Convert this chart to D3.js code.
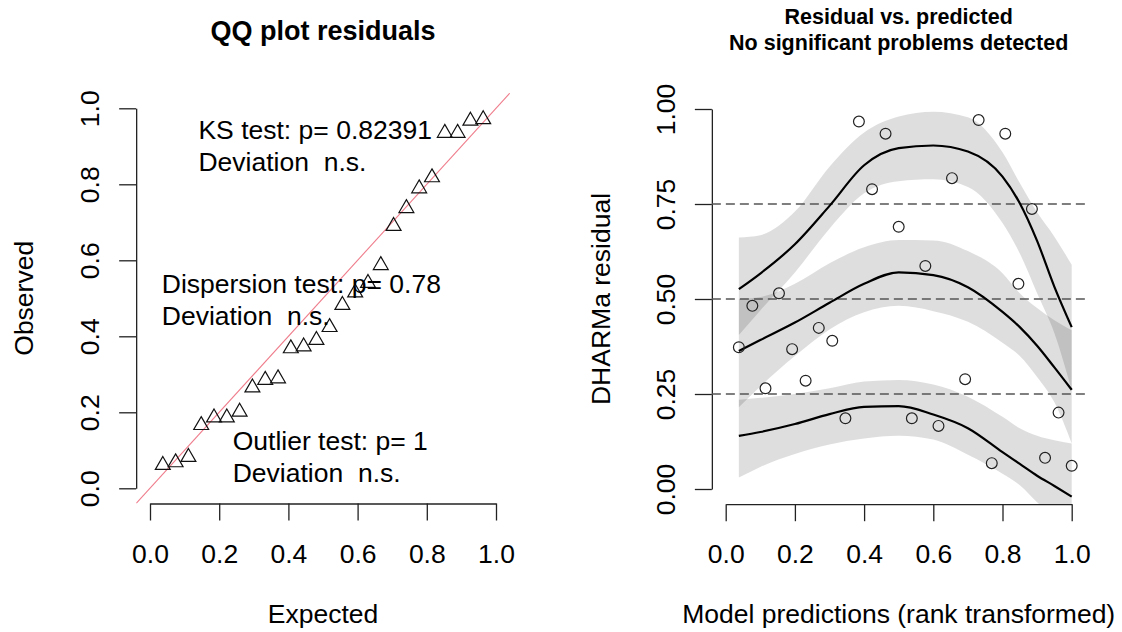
<!DOCTYPE html>
<html>
<head>
<meta charset="utf-8">
<script src="https://cdn.jsdelivr.net/npm/d3@7"></script>
<style>
  body { margin: 0; background: #fff; }
  svg text { font-family: "Liberation Sans", Arial, sans-serif; fill: #000; white-space: pre; }
</style>
</head>
<body>
<div id="chart"></div>
<script>
// ---------------- data ----------------
// scaled residuals in order of predicted rank
const predRank = [0.038, 0.077, 0.115, 0.154, 0.192, 0.231, 0.269, 0.308, 0.346, 0.385, 0.423, 0.462, 0.500,
  0.538, 0.577, 0.615, 0.654, 0.692, 0.731, 0.769, 0.808, 0.846, 0.885, 0.923, 0.962, 1.000];
const residuals = [0.373, 0.482, 0.265, 0.515, 0.368, 0.285, 0.424, 0.390, 0.186, 0.967, 0.789, 0.935, 0.690,
  0.186, 0.587, 0.166, 0.818, 0.289, 0.971, 0.068, 0.935, 0.540, 0.737, 0.082, 0.201, 0.061];
// expected uniform quantiles for the QQ plot
const expectedQ = [0.037, 0.074, 0.111, 0.148, 0.185, 0.222, 0.259, 0.296, 0.333, 0.370, 0.407, 0.444, 0.481,
  0.519, 0.556, 0.593, 0.630, 0.667, 0.704, 0.741, 0.778, 0.815, 0.852, 0.889, 0.926, 0.963];

// quantile regression fits (0.25, 0.5, 0.75) with their bands
const qGrid = [0.038, 0.1, 0.2, 0.3, 0.4, 0.5, 0.6, 0.7, 0.8, 0.85, 0.9, 0.95, 1.0];
const q25 = [0.140, 0.150, 0.171, 0.197, 0.216, 0.218, 0.196, 0.160, 0.097, 0.066, 0.035, 0.008, -0.020];
const q25Lo = [0.030, 0.058, 0.092, 0.117, 0.133, 0.140, 0.130, 0.090, 0.040, 0.010, -0.035, -0.080, -0.130];
const q25Hi = [0.235, 0.240, 0.250, 0.265, 0.283, 0.287, 0.275, 0.243, 0.190, 0.160, 0.140, 0.128, 0.120];
const q50 = [0.363, 0.392, 0.438, 0.490, 0.540, 0.570, 0.563, 0.531, 0.466, 0.426, 0.377, 0.320, 0.261];
const q50Lo = [0.215, 0.270, 0.350, 0.420, 0.465, 0.482, 0.468, 0.440, 0.385, 0.350, 0.295, 0.228, 0.120];
const q50Hi = [0.500, 0.505, 0.540, 0.594, 0.636, 0.655, 0.654, 0.626, 0.568, 0.515, 0.476, 0.444, 0.418];
const q75 = [0.526, 0.567, 0.644, 0.745, 0.852, 0.897, 0.904, 0.888, 0.822, 0.752, 0.653, 0.532, 0.426];
const q75Lo = [0.405, 0.470, 0.570, 0.685, 0.778, 0.810, 0.815, 0.795, 0.700, 0.620, 0.515, 0.410, 0.260];
const q75Hi = [0.662, 0.668, 0.730, 0.848, 0.938, 0.980, 0.993, 0.978, 0.886, 0.805, 0.728, 0.664, 0.590];
const refQuantiles = [0.25, 0.5, 0.75];

// ticks and texts
const qqTicks = [0, 0.2, 0.4, 0.6, 0.8, 1.0];
const resTicksX = [0, 0.2, 0.4, 0.6, 0.8, 1.0];
const resTicksY = [0, 0.25, 0.5, 0.75, 1.0];
const usrLimits = [-0.04, 1.04];
const testLines = [
  { x: 0.14, y: 0.92, lines: ["KS test: p= 0.82391", "Deviation  n.s."] },
  { x: 0.034, y: 0.514, lines: ["Dispersion test: p= 0.78", "Deviation  n.s."] },
  { x: 0.239, y: 0.10, lines: ["Outlier test: p= 1", "Deviation  n.s."] },
];

// ---------------- init ----------------
const width = 1122, height = 632;
const svg = d3.select("#chart").append("svg").attr("width", width).attr("height", height);
const fontSize = 26.5;

// left panel scales
const xQ = d3.scaleLinear().domain([0, 1]).range([150, 496]);
const yQ = d3.scaleLinear().domain([0, 1]).range([488.3, 108.3]);
// right panel scales
const xR = d3.scaleLinear().domain([0, 1]).range([725.7, 1071.7]);
const yR = d3.scaleLinear().domain([0, 1]).range([489, 109]);

function clipFor(id, x, y) {
  svg.append("clipPath").attr("id", id)
    .append("rect")
    .attr("x", x(usrLimits[0])).attr("y", y(usrLimits[1]))
    .attr("width", x(usrLimits[1]) - x(usrLimits[0]))
    .attr("height", y(usrLimits[0]) - y(usrLimits[1]));
}
clipFor("clipQ", xQ, yQ);
clipFor("clipR", xR, yR);

function drawAxes(x, y, xTicks, yTicks, xFmt, yFmt) {
  const xAxis = d3.axisBottom(x).tickValues(xTicks).tickFormat(xFmt).tickSize(17).tickSizeOuter(0);
  const yAxis = d3.axisLeft(y).tickValues(yTicks).tickFormat(yFmt).tickSize(17).tickSizeOuter(0);

  const gx = svg.append("g")
    .attr("transform", `translate(0,${y(usrLimits[0])})`)
    .call(xAxis);
  gx.selectAll("text").attr("y", 59).attr("dy", null)
    .style("font-size", fontSize + "px").style("font-family", null);

  const gy = svg.append("g")
    .attr("transform", `translate(${x(usrLimits[0])},0)`)
    .call(yAxis);
  gy.selectAll("text")
    .attr("x", 0).attr("y", -37).attr("dy", null)
    .attr("transform", "rotate(-90)")
    .attr("text-anchor", "middle")
    .style("font-size", fontSize + "px").style("font-family", null);

  svg.selectAll(".domain, .tick line").attr("stroke", "#222").attr("stroke-width", 1.3);
  svg.selectAll(".tick text").attr("fill", "#000");
  svg.selectAll("g").attr("font-family", null).attr("font-size", null);
}

// ---------------- left: QQ plot ----------------
drawAxes(xQ, yQ, qqTicks, [0, 0.2, 0.4, 0.6, 0.8, 1.0], d3.format(".1f"), d3.format(".1f"));

svg.append("text")
  .attr("x", (xQ(usrLimits[0]) + xQ(usrLimits[1])) / 2).attr("y", 40)
  .attr("text-anchor", "middle").attr("font-weight", "bold").style("font-size", "27px")
  .text("QQ plot residuals");

svg.append("text")
  .attr("x", (xQ(usrLimits[0]) + xQ(usrLimits[1])) / 2).attr("y", 623)
  .attr("text-anchor", "middle").style("font-size", fontSize + "px")
  .text("Expected");

svg.append("text")
  .attr("transform", `translate(33,${(yQ(usrLimits[0]) + yQ(usrLimits[1])) / 2}) rotate(-90)`)
  .attr("text-anchor", "middle").style("font-size", fontSize + "px")
  .text("Observed");

// reference line y = x
svg.append("line")
  .attr("clip-path", "url(#clipQ)")
  .attr("x1", xQ(usrLimits[0])).attr("y1", yQ(usrLimits[0]))
  .attr("x2", xQ(usrLimits[1])).attr("y2", yQ(usrLimits[1]))
  .attr("stroke", "#ef7d8c").attr("stroke-width", 1.1);

const observed = residuals.slice().sort(d3.ascending);
const triR = 8.6;
const triangle = `M0,${-triR}L${0.866 * triR},${0.5 * triR}L${-0.866 * triR},${0.5 * triR}Z`;

svg.append("g")
  .selectAll("path")
  .data(expectedQ)
  .join("path")
  .attr("transform", (d, i) => `translate(${xQ(d)},${yQ(observed[i])})`)
  .attr("d", triangle)
  .attr("fill", "none")
  .attr("stroke", "#111")
  .attr("stroke-width", 1.2);

// test results
testLines.forEach((t) => {
  t.lines.forEach((s, i) => {
    svg.append("text")
      .attr("x", xQ(t.x)).attr("y", yQ(t.y) + i * 32)
      .style("font-size", fontSize + "px")
      .text(s);
  });
});

// ---------------- right: residual vs predicted ----------------
drawAxes(xR, yR, resTicksX, resTicksY, d3.format(".1f"), d3.format(".2f"));

const midR = (xR(usrLimits[0]) + xR(usrLimits[1])) / 2;
svg.append("text")
  .attr("x", midR).attr("y", 24)
  .attr("text-anchor", "middle").attr("font-weight", "bold").style("font-size", "21.5px")
  .text("Residual vs. predicted");
svg.append("text")
  .attr("x", midR).attr("y", 50)
  .attr("text-anchor", "middle").attr("font-weight", "bold").style("font-size", "21.5px")
  .text("No significant problems detected");

svg.append("text")
  .attr("x", midR).attr("y", 623)
  .attr("text-anchor", "middle").style("font-size", fontSize + "px")
  .text("Model predictions (rank transformed)");

svg.append("text")
  .attr("transform", `translate(610,${(yR(usrLimits[0]) + yR(usrLimits[1])) / 2}) rotate(-90)`)
  .attr("text-anchor", "middle").style("font-size", fontSize + "px")
  .text("DHARMa residual");

const plotR = svg.append("g").attr("clip-path", "url(#clipR)");

// bands
const bands = [
  { lo: q25Lo, hi: q25Hi, mid: q25 },
  { lo: q50Lo, hi: q50Hi, mid: q50 },
  { lo: q75Lo, hi: q75Hi, mid: q75 },
];
const curve = d3.curveMonotoneX;
const area = d3.area()
  .x((d) => xR(d.x))
  .y0((d) => yR(d.lo))
  .y1((d) => yR(d.hi))
  .curve(curve);
const line = d3.line()
  .x((d) => xR(d.x))
  .y((d) => yR(d.y))
  .curve(curve);

bands.forEach((b) => {
  plotR.append("path")
    .datum(qGrid.map((x, i) => ({ x: x, lo: b.lo[i], hi: b.hi[i] })))
    .attr("d", area)
    .attr("fill", "#000")
    .attr("fill-opacity", 0.13);
});

// dashed reference quantiles
plotR.selectAll(".ref")
  .data(refQuantiles)
  .join("line")
  .attr("class", "ref")
  .attr("x1", xR(usrLimits[0])).attr("x2", xR(usrLimits[1]))
  .attr("y1", (d) => yR(d)).attr("y2", (d) => yR(d))
  .attr("stroke", "#555")
  .attr("stroke-width", 1.5)
  .attr("stroke-dasharray", "9,5");

bands.forEach((b) => {
  plotR.append("path")
    .datum(qGrid.map((x, i) => ({ x: x, y: b.mid[i] })))
    .attr("d", line)
    .attr("fill", "none")
    .attr("stroke", "#000")
    .attr("stroke-width", 2.2);
});

plotR.append("g")
  .selectAll("circle")
  .data(residuals)
  .join("circle")
  .attr("cx", (d, i) => xR(predRank[i]))
  .attr("cy", (d) => yR(d))
  .attr("r", 5.4)
  .attr("fill", "none")
  .attr("stroke", "#222")
  .attr("stroke-width", 1.2);
</script>
</body>
</html>
